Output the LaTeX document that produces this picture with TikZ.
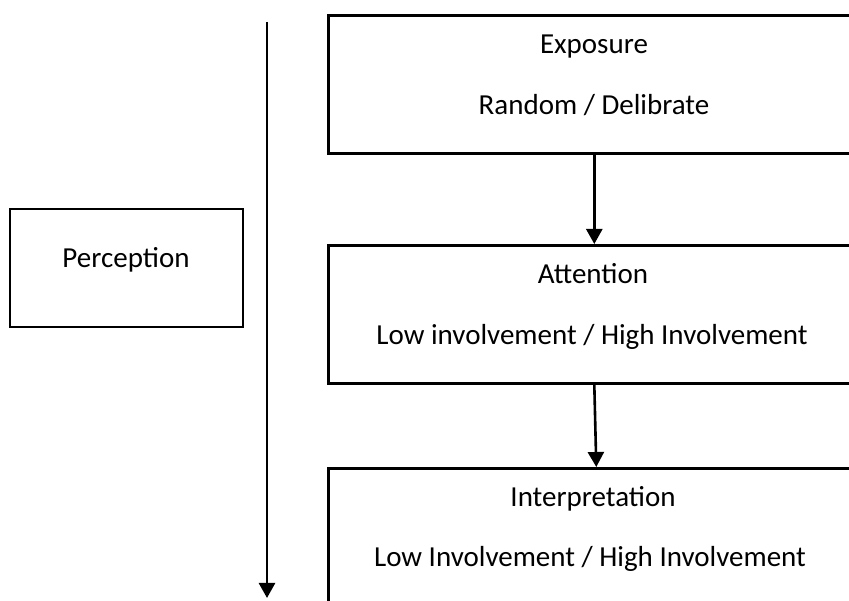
\documentclass[tikz,border=0pt]{standalone}
\usepackage{fontspec}
\setmainfont{Carlito}
\usetikzlibrary{arrows.meta}
\begin{document}
\begin{tikzpicture}[x=1pt,y=1pt,
  box/.style={draw=black, line width=2.6pt, fill=none, inner sep=0pt},
  txt/.style={font=\fontsize{29}{34}\selectfont, anchor=base, inner sep=0pt},
  conn/.style={draw=black, line width=2.6pt, -{Triangle[length=15pt,width=16pt]}}]
\useasboundingbox (0,0) rectangle (849,601);
\clip (0,0) rectangle (849,601);
% Perception box
\node[box, minimum width=233, minimum height=118] (perc) at (126.5,{601-268}) {};
\node[txt] (perct) at (126,{601-268}) {Perception};
% vertical arrow
\coordinate (vtop) at (267,{601-22});
\coordinate (vbot) at (267,{601-598});
\draw[conn] (vtop) -- (vbot);
% Exposure
\node[box, minimum width=536, minimum height=138, anchor=north west] (exp) at (327,{601-14}) {};
\node[txt] (expt) at (594,{601-54}) {Exposure};
\node[txt] (exps) at (594,{601-115}) {Random / Delibrate};
% Attention
\node[box, minimum width=536, minimum height=138, anchor=north west] (att) at (327,{601-244}) {};
\node[txt] (attt) at (593,{601-284}) {Attention};
\node[txt] (atts) at (592,{601-345}) {Low involvement / High Involvement};
% Interpretation
\node[box, minimum width=536, minimum height=180, anchor=north west] (int) at (327,{601-467}) {};
\node[txt] (intt) at (593,{601-507}) {Interpretation};
\node[txt] (ints) at (590,{601-567}) {Low Involvement / High Involvement};
% connectors
\draw[conn] ([xshift=-2pt]exp.south) -- ([xshift=-2pt]att.north);
\draw[conn] ([xshift=-2pt]att.south) -- ([xshift=0pt]int.north);
\end{tikzpicture}
\end{document}
